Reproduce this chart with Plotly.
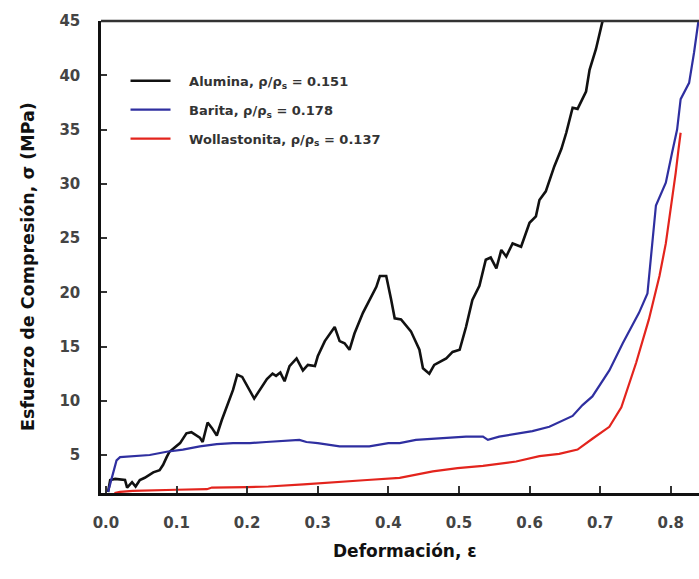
import plotly.graph_objects as go

# ---- data ----
alumina_x = [0.003, 0.006, 0.013, 0.027, 0.030, 0.037, 0.042, 0.048, 0.055, 0.067, 0.076, 0.081,
             0.086, 0.090, 0.105, 0.114, 0.121, 0.133, 0.137, 0.144, 0.150, 0.157, 0.164, 0.173,
             0.180, 0.186, 0.193, 0.210, 0.228, 0.236, 0.241, 0.247, 0.253, 0.260, 0.270, 0.279,
             0.286, 0.296, 0.300, 0.310, 0.324, 0.331, 0.338, 0.345, 0.352, 0.364, 0.373, 0.383,
             0.388, 0.397, 0.404, 0.409, 0.418, 0.432, 0.444, 0.449, 0.458, 0.465, 0.482, 0.491,
             0.501, 0.510, 0.519, 0.529, 0.538, 0.545, 0.553, 0.560, 0.567, 0.576, 0.588, 0.600,
             0.609, 0.614, 0.623, 0.635, 0.645, 0.652, 0.661, 0.668, 0.680, 0.685, 0.694, 0.703,
             0.708]
alumina_y = [1.6, 2.7, 2.8, 2.7, 2.0, 2.5, 2.1, 2.7, 2.9, 3.4, 3.6, 4.1,
             4.8, 5.3, 6.1, 7.0, 7.1, 6.6, 6.2, 8.0, 7.5, 6.8, 8.2, 9.8,
             11.0, 12.4, 12.2, 10.2, 12.0, 12.5, 12.3, 12.6, 11.8, 13.2, 13.9, 12.8,
             13.3, 13.2, 14.1, 15.5, 16.8, 15.5, 15.3, 14.7, 16.2, 18.1, 19.3, 20.5,
             21.5, 21.5, 19.3, 17.6, 17.5, 16.4, 14.7, 13.0, 12.5, 13.3, 13.9, 14.5,
             14.7, 16.8, 19.3, 20.6, 23.0, 23.2, 22.2, 23.9, 23.3, 24.5, 24.2, 26.4,
             27.0, 28.5, 29.3, 31.6, 33.2, 34.7, 37.0, 36.9, 38.5, 40.5, 42.4, 44.9,
             45.6]

barita_x = [0.003, 0.010, 0.015, 0.020, 0.039, 0.062, 0.086, 0.109, 0.133, 0.157, 0.180, 0.204,
            0.227, 0.251, 0.274, 0.284, 0.300, 0.331, 0.373, 0.400, 0.416, 0.439, 0.463, 0.510,
            0.534, 0.541, 0.557, 0.586, 0.604, 0.628, 0.645, 0.661, 0.675, 0.689, 0.713, 0.732,
            0.755, 0.767, 0.779, 0.793, 0.802, 0.809, 0.814, 0.826, 0.833, 0.839, 0.842]
barita_y = [1.6, 3.3, 4.5, 4.8, 4.9, 5.0, 5.3, 5.5, 5.8, 6.0, 6.1, 6.1,
            6.2, 6.3, 6.4, 6.2, 6.1, 5.8, 5.8, 6.1, 6.1, 6.4, 6.5, 6.7,
            6.7, 6.4, 6.7, 7.0, 7.2, 7.6, 8.1, 8.6, 9.6, 10.4, 12.8, 15.3,
            18.1, 19.9, 28.0, 30.1, 32.9, 35.0, 37.8, 39.3, 42.1, 44.9, 45.6]

wollastonita_x = [0.012, 0.020, 0.038, 0.060, 0.100, 0.143, 0.150, 0.200, 0.230, 0.280, 0.320,
                  0.370, 0.416, 0.463, 0.498, 0.534, 0.581, 0.614, 0.642, 0.668, 0.689, 0.713,
                  0.730, 0.751, 0.769, 0.784, 0.793, 0.800, 0.807, 0.811, 0.814]
wollastonita_y = [1.5, 1.6, 1.7, 1.75, 1.8, 1.85, 2.0, 2.05, 2.1, 2.3, 2.5,
                  2.7, 2.9, 3.5, 3.8, 4.0, 4.4, 4.9, 5.1, 5.5, 6.5, 7.6,
                  9.4, 13.5, 17.5, 21.5, 24.5, 27.6, 31.0, 33.2, 34.7]

series_names = ["Alumina, ρ/ρ<sub>s</sub> = 0.151",
                "Barita, ρ/ρ<sub>s</sub> = 0.178",
                "Wollastonita, ρ/ρ<sub>s</sub> = 0.137"]

x_ticks = [0.0, 0.1, 0.2, 0.3, 0.4, 0.5, 0.6, 0.7, 0.8]
y_ticks = [5, 10, 15, 20, 25, 30, 35, 40, 45]

x_title = "Deformación, ε"
y_title = "Esfuerzo de Compresión, σ (MPa)"

FONT = "DejaVu Sans, sans-serif"
PAD = "\u00a0\u00a0\u00a0"

fig = go.Figure()
fig.add_trace(go.Scatter(x=alumina_x, y=alumina_y, mode="lines", name=PAD + series_names[0],
                         legendgroup="a", line=dict(color="#111111", width=2.6)))
fig.add_trace(go.Scatter(x=barita_x, y=barita_y, mode="lines", name=PAD + series_names[1],
                         legendgroup="b", line=dict(color="#2f2fa0", width=2.2)))
fig.add_trace(go.Scatter(x=wollastonita_x, y=wollastonita_y, mode="lines", name=PAD + series_names[2],
                         legendgroup="c", line=dict(color="#e3241d", width=2.2)))

fig.update_layout(
    width=699, height=579,
    margin=dict(l=101, r=0, t=21, b=86),
    paper_bgcolor="white", plot_bgcolor="white",
    font=dict(family=FONT, color="#222222"),
    showlegend=True,
    legend=dict(x=0.041, y=0.905, xanchor="left", yanchor="top",
                bgcolor="rgba(0,0,0,0)", tracegroupgap=9, itemwidth=40,
                font=dict(size=13, color="#333333", family=FONT, weight="bold")),
    shapes=[dict(type="line", xref="paper", yref="paper", x0=0, x1=1, y0=1, y1=1,
                 line=dict(color="#333333", width=2.5))],
    annotations=[
        dict(text=y_title, xref="paper", yref="paper", x=-0.122, y=0.479,
             xanchor="center", yanchor="middle", textangle=-90, showarrow=False,
             font=dict(size=17.5, color="#111111", family=FONT, weight="bold")),
        dict(text=x_title, xref="paper", yref="paper", x=0.508, y=-0.123,
             xanchor="center", yanchor="middle", showarrow=False,
             font=dict(size=17, color="#111111", family=FONT, weight="bold")),
    ],
)

fig.update_xaxes(
    range=[-0.007, 0.84], tickvals=x_ticks, tickformat=".1f", automargin=False,
    showgrid=False, zeroline=False, showline=True, linecolor="#111111", linewidth=2.5,
    ticks="inside", ticklen=7, tickwidth=1.5, tickcolor="#333333",
    ticklabelstandoff=14,
    tickfont=dict(size=15, color="#444444", family=FONT, weight="bold"),
)
fig.update_yaxes(
    range=[1.5, 45], tickvals=y_ticks, automargin=False,
    showgrid=False, zeroline=False, showline=True, linecolor="#111111", linewidth=2.5,
    ticks="inside", ticklen=6, tickwidth=1.5, tickcolor="#333333",
    ticklabelstandoff=15,
    tickfont=dict(size=15, color="#444444", family=FONT, weight="bold"),
)

# remove the browser's default 8px page margin so the figure fills the 699x579 window
fig.write_html("out.html",
               config={"displayModeBar": False},
               post_script="document.body.style.margin='0px';"
                           "document.body.style.overflow='hidden';")
